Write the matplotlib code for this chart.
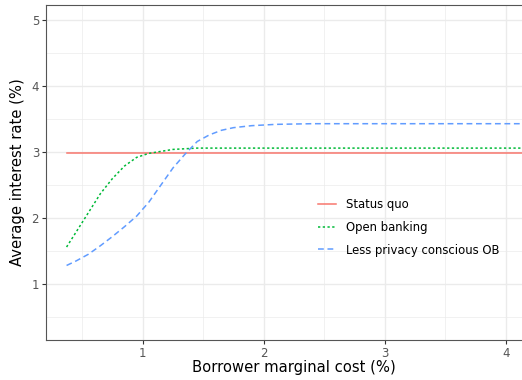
import matplotlib
matplotlib.use("Agg")
import matplotlib.pyplot as plt
from matplotlib.ticker import MultipleLocator

# values
cost = [0.37, 0.45, 0.55, 0.65, 0.75, 0.85, 0.95, 1.05, 1.15, 1.25, 1.35,
        1.45, 1.55, 1.65, 1.75, 1.9, 2.1, 2.4, 3.0, 3.5, 4.3]
status_quo = [2.99] * len(cost)
open_banking = [1.56, 1.79, 2.08, 2.37, 2.60, 2.79, 2.92, 2.98, 3.01, 3.04, 3.05,
                3.06, 3.06, 3.06, 3.06, 3.06, 3.06, 3.06, 3.06, 3.06, 3.06]
less_privacy = [1.28, 1.35, 1.45, 1.58, 1.72, 1.87, 2.03, 2.24, 2.50, 2.76, 2.97,
                3.16, 3.26, 3.33, 3.37, 3.40, 3.42, 3.43, 3.43, 3.43, 3.43]
labels = ["Status quo", "Open banking", "Less privacy conscious OB"]

fig = plt.figure(figsize=(5.22, 3.8), dpi=100)
ax = fig.add_axes([46 / 522, 40 / 380, (542 - 46) / 522, 335 / 380])

ax.plot(cost, status_quo, color="#F8766D", lw=1.1, label=labels[0])
ax.plot(cost, open_banking, color="#00BA38", lw=1.1, dashes=(1.5, 1.6), label=labels[1])
ax.plot(cost, less_privacy, color="#619CFF", lw=1.1, dashes=(3.8, 2.4), label=labels[2])

ax.set_xlim(0.2, 4.3)
ax.set_ylim(0.15, 5.23)
ax.xaxis.set_major_locator(MultipleLocator(1))
ax.xaxis.set_minor_locator(MultipleLocator(0.5))
ax.yaxis.set_major_locator(MultipleLocator(1))
ax.yaxis.set_minor_locator(MultipleLocator(0.5))
ax.grid(which="major", color="#EBEBEB", lw=1.0)
ax.grid(which="minor", color="#EBEBEB", lw=0.5)
ax.set_axisbelow(True)
ax.tick_params(which="minor", length=0)
ax.tick_params(which="major", length=3, width=0.8, color="#333333",
               labelsize=8.5, labelcolor="#555555", pad=2)
for s in ax.spines.values():
    s.set_color("#555555")
    s.set_linewidth(0.8)

ax.set_xlabel("Borrower marginal cost (%)", fontsize=10.6, labelpad=0)
ax.set_ylabel("Average interest rate (%)", fontsize=10.6, labelpad=5)

leg = ax.legend(loc="upper left", bbox_to_anchor=(0.527, 0.456), frameon=False,
                fontsize=8.4, handlelength=1.55, handletextpad=0.85, labelspacing=0.85)

fig.savefig("out.png", dpi=100)
